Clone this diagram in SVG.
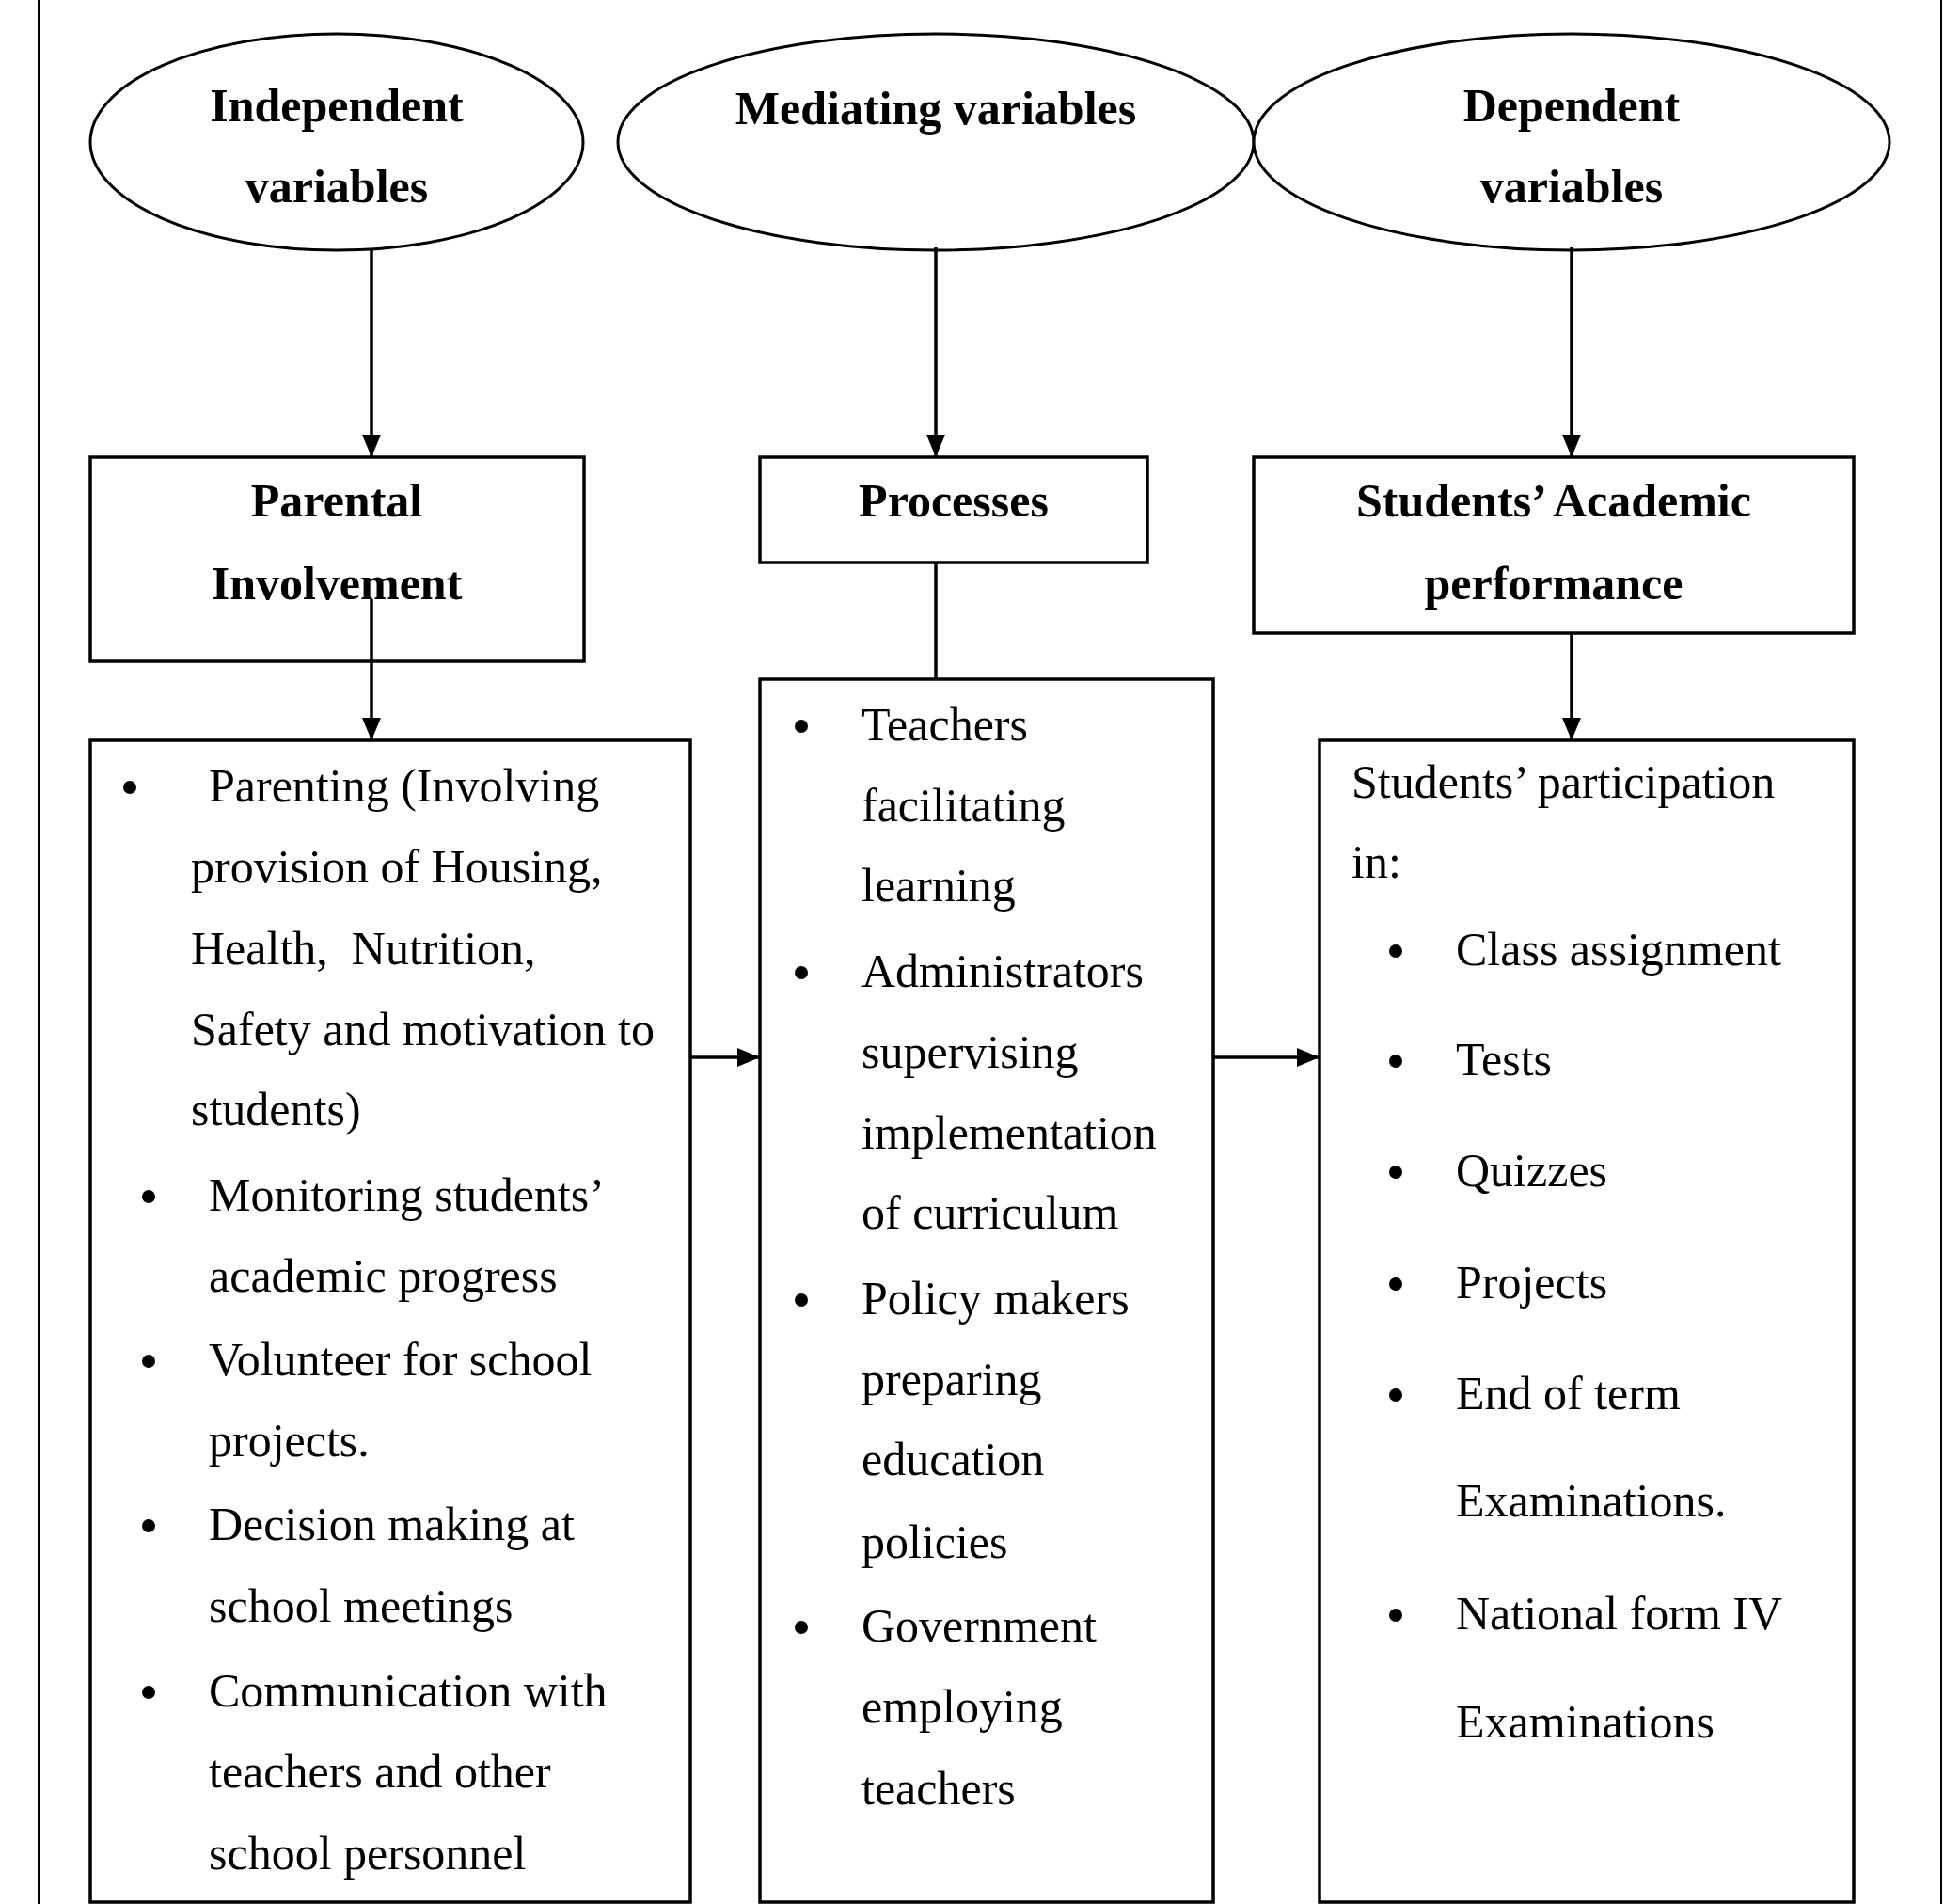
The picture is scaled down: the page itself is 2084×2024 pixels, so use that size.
<svg xmlns="http://www.w3.org/2000/svg" width="2084" height="2024" viewBox="0 0 2084 2024">
<style>
.sh{fill:#fff;stroke:#000;stroke-width:3.5}
.el{fill:#fff;stroke:#000;stroke-width:3}
.ttl{font-family:"Liberation Serif","Times New Roman",serif;font-weight:bold;font-size:50px;fill:#000;text-anchor:middle}
.bd{font-family:"Liberation Serif","Times New Roman",serif;font-size:50px;fill:#000}
.ln{stroke:#000;stroke-width:3.5;fill:none}
.dot{fill:#000}
</style>
<defs>
<marker id="ah" viewBox="0 0 24 20" refX="24" refY="10" markerWidth="24" markerHeight="20" markerUnits="userSpaceOnUse" orient="auto">
<path d="M0,0 L24,10 L0,20 Z" fill="#000"/>
</marker>
</defs>
<rect width="2084" height="2024" fill="#fff"/>
<g id="frame">
<line x1="41" y1="0" x2="41" y2="2024" stroke="#000" stroke-width="2"/>
<line x1="2064" y1="0" x2="2064" y2="2024" stroke="#000" stroke-width="2"/>
</g>
<g id="independent">
<ellipse class="el" cx="358" cy="151" rx="262" ry="115"/>
<text class="ttl" x="358" y="129">Independent</text>
<text class="ttl" x="358" y="215">variables</text>
</g>
<g id="mediating">
<ellipse class="el" cx="995" cy="151" rx="338" ry="115"/>
<text class="ttl" x="995" y="132">Mediating variables</text>
</g>
<g id="dependent">
<ellipse class="el" cx="1671" cy="151" rx="338" ry="115"/>
<text class="ttl" x="1671" y="129">Dependent</text>
<text class="ttl" x="1671" y="215">variables</text>
</g>
<g id="parental">
<rect class="sh" x="96" y="486" width="525" height="217"/>
<text class="ttl" x="358" y="549">Parental</text>
<text class="ttl" x="358" y="637">Involvement</text>
</g>
<g id="processes">
<rect class="sh" x="808" y="486" width="412" height="112"/>
<text class="ttl" x="1014" y="549">Processes</text>
</g>
<g id="performance">
<rect class="sh" x="1333" y="486" width="638" height="187"/>
<text class="ttl" x="1652" y="549">Students’ Academic</text>
<text class="ttl" x="1652" y="637">performance</text>
</g>
<g id="left-list">
<rect class="sh" x="96" y="787" width="638" height="1235"/>
<circle class="dot" cx="138" cy="837" r="7"/>
<text class="bd" x="222" y="852">Parenting (Involving</text>
<text class="bd" x="203" y="938">provision of Housing,</text>
<text class="bd" x="203" y="1025" xml:space="preserve">Health,  Nutrition,</text>
<text class="bd" x="203" y="1111">Safety and motivation to</text>
<text class="bd" x="203" y="1196">students)</text>
<circle class="dot" cx="158" cy="1272" r="7"/>
<text class="bd" x="222" y="1287">Monitoring students’</text>
<text class="bd" x="222" y="1373">academic progress</text>
<circle class="dot" cx="158" cy="1447" r="7"/>
<text class="bd" x="222" y="1462">Volunteer for school</text>
<text class="bd" x="222" y="1548">projects.</text>
<circle class="dot" cx="158" cy="1622" r="7"/>
<text class="bd" x="222" y="1637">Decision making at</text>
<text class="bd" x="222" y="1724">school meetings</text>
<circle class="dot" cx="158" cy="1799" r="7"/>
<text class="bd" x="222" y="1814">Communication with</text>
<text class="bd" x="222" y="1900">teachers and other</text>
<text class="bd" x="222" y="1987">school personnel</text>
</g>
<g id="middle-list">
<rect class="sh" x="808" y="722" width="482" height="1300"/>
<circle class="dot" cx="852" cy="772" r="7"/>
<text class="bd" x="916" y="787">Teachers</text>
<text class="bd" x="916" y="873">facilitating</text>
<text class="bd" x="916" y="958">learning</text>
<circle class="dot" cx="852" cy="1034" r="7"/>
<text class="bd" x="916" y="1049">Administrators</text>
<text class="bd" x="916" y="1135">supervising</text>
<text class="bd" x="916" y="1221">implementation</text>
<text class="bd" x="916" y="1306">of curriculum</text>
<circle class="dot" cx="852" cy="1382" r="7"/>
<text class="bd" x="916" y="1397">Policy makers</text>
<text class="bd" x="916" y="1483">preparing</text>
<text class="bd" x="916" y="1568">education</text>
<text class="bd" x="916" y="1656">policies</text>
<circle class="dot" cx="852" cy="1730" r="7"/>
<text class="bd" x="916" y="1745">Government</text>
<text class="bd" x="916" y="1831">employing</text>
<text class="bd" x="916" y="1918">teachers</text>
</g>
<g id="right-list">
<rect class="sh" x="1403" y="787" width="568" height="1235"/>
<text class="bd" x="1437" y="848">Students’ participation</text>
<text class="bd" x="1437" y="933">in:</text>
<circle class="dot" cx="1484" cy="1011" r="7"/>
<text class="bd" x="1548" y="1026">Class assignment</text>
<circle class="dot" cx="1484" cy="1128" r="7"/>
<text class="bd" x="1548" y="1143">Tests</text>
<circle class="dot" cx="1484" cy="1246" r="7"/>
<text class="bd" x="1548" y="1261">Quizzes</text>
<circle class="dot" cx="1484" cy="1365" r="7"/>
<text class="bd" x="1548" y="1380">Projects</text>
<circle class="dot" cx="1484" cy="1483" r="7"/>
<text class="bd" x="1548" y="1498">End of term</text>
<text class="bd" x="1548" y="1612">Examinations.</text>
<circle class="dot" cx="1484" cy="1717" r="7"/>
<text class="bd" x="1548" y="1732">National form IV</text>
<text class="bd" x="1548" y="1847">Examinations</text>
</g>
<g id="connectors">
<line class="ln" x1="395" y1="266" x2="395" y2="486" marker-end="url(#ah)"/>
<line class="ln" x1="995" y1="263" x2="995" y2="486" marker-end="url(#ah)"/>
<line class="ln" x1="1671" y1="263" x2="1671" y2="486" marker-end="url(#ah)"/>
<line class="ln" x1="395" y1="637" x2="395" y2="787" marker-end="url(#ah)"/>
<line class="ln" x1="995" y1="598" x2="995" y2="722"/>
<line class="ln" x1="1671" y1="673" x2="1671" y2="787" marker-end="url(#ah)"/>
<line class="ln" x1="734" y1="1124" x2="808" y2="1124" marker-end="url(#ah)"/>
<line class="ln" x1="1290" y1="1124" x2="1403" y2="1124" marker-end="url(#ah)"/>
</g>
</svg>
